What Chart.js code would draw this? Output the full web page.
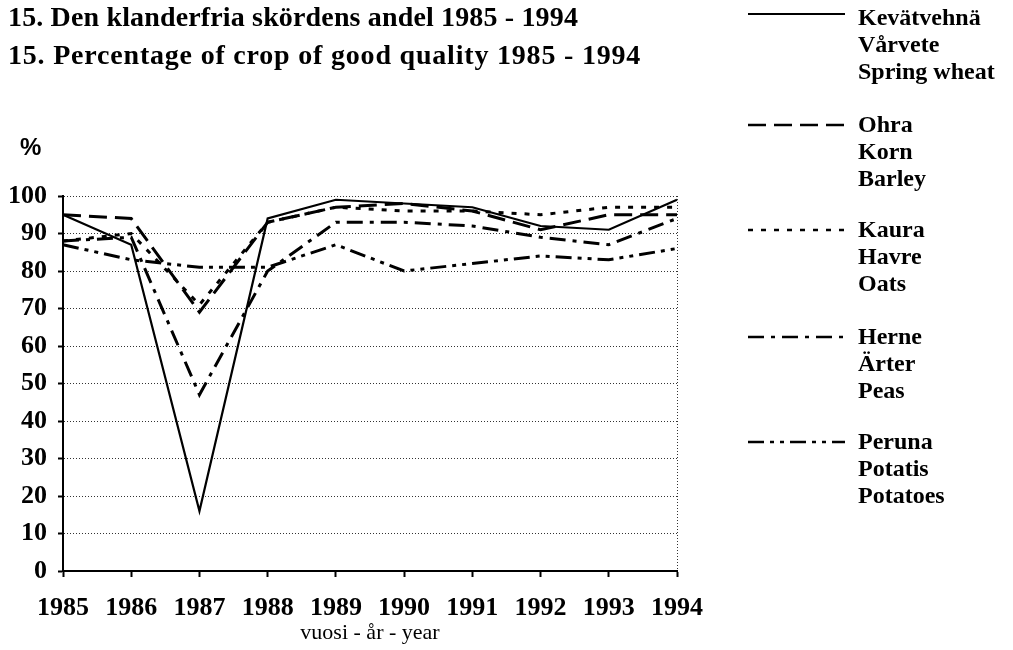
<!DOCTYPE html>
<html>
<head>
<meta charset="utf-8">
<script src="https://cdn.jsdelivr.net/npm/chart.js@4.4.1/dist/chart.umd.min.js"></script>
<style>
  html, body { margin:0; padding:0; background:#fff; }
  body { width:1013px; height:650px; position:relative; overflow:hidden; font-family:"Liberation Serif", "Times New Roman", serif; color:#000; }
  #c { position:absolute; left:0; top:0; }
  .title { position:absolute; left:8px; font-size:28px; font-weight:bold; line-height:1; white-space:nowrap; }
  .pct { position:absolute; left:20px; top:135px; font-family:"Liberation Sans", Arial, sans-serif; font-size:24px; font-weight:bold; line-height:1; }
  .leg { position:absolute; left:858px; font-size:24px; font-weight:bold; line-height:27px; white-space:nowrap; }
  #legsvg { position:absolute; left:0; top:0; }
</style>
</head>
<body>
<canvas id="c" width="1013" height="650"></canvas>
<div class="title" style="top:3px; letter-spacing:0.15px">15. Den klanderfria skördens andel 1985 - 1994</div>
<div class="title" style="top:41px; letter-spacing:0.8px">15. Percentage of crop of good quality 1985 - 1994</div>
<div class="pct">%</div>
<svg id="legsvg" width="1013" height="650"></svg>
<div id="legend"></div>
<script>
const years = ['1985','1986','1987','1988','1989','1990','1991','1992','1993','1994'];
const springWheat = [95, 87, 16, 94, 99, 98, 97, 92, 91, 99];
const barley      = [95, 94, 69, 93, 97, 98, 96, 91, 95, 95];
const oats        = [88, 90, 71, 93, 97, 96, 96, 95, 97, 97];
const peas        = [88, 89, 47, 80, 93, 93, 92, 89, 87, 94];
const potatoes    = [87, 83, 81, 81, 87, 80, 82, 84, 83, 86];
const seriesNames = [
  ['Kevätvehnä','Vårvete','Spring wheat'],
  ['Ohra','Korn','Barley'],
  ['Kaura','Havre','Oats'],
  ['Herne','Ärter','Peas'],
  ['Peruna','Potatis','Potatoes']
];
const xTitle = 'vuosi - år - year';
const yMin = 0, yMax = 100, yStep = 10;

const FAM = '"Liberation Serif", "Times New Roman", serif';
const dashes = [[], [18, 8], [5, 8], [16, 7, 4, 7], [16, 6, 4, 6, 4, 6]];
const widths = [2.2, 3, 3, 3, 3];
const values = [springWheat, barley, oats, peas, potatoes];

const datasets = values.map((v, i) => ({
  label: seriesNames[i][2],
  data: v,
  borderColor: '#000',
  backgroundColor: '#000',
  borderWidth: widths[i],
  borderDash: dashes[i],
  borderCapStyle: 'butt',
  pointRadius: 0,
  fill: false,
  tension: 0
}));

new Chart(document.getElementById('c').getContext('2d'), {
  type: 'line',
  data: { labels: years, datasets },
  options: {
    responsive: false,
    animation: false,
    layout: { padding: { left: 0, right: 336, top: 196, bottom: 0 } },
    plugins: { legend: { display: false }, tooltip: { enabled: false }, title: { display: false } },
    scales: {
      x: {
        grid: {
          color: c => (c.index === years.length - 1 ? '#333' : 'rgba(0,0,0,0)'),
          lineWidth: 1,
          drawTicks: true,
          tickLength: 6,
          tickColor: '#000',
          tickWidth: 2
        },
        border: { display: true, color: '#000', width: 2, dash: [1, 2] },
        ticks: { font: { family: FAM, size: 26, weight: 'bold' }, color: '#000', padding: 16, maxRotation: 0, autoSkip: false },
        title: { display: true, text: xTitle, font: { family: FAM, size: 22 }, color: '#000', padding: { top: 0, bottom: 4 } },
        afterFit: s => { s.height = 79; }
      },
      y: {
        min: yMin, max: yMax,
        ticks: { stepSize: yStep, font: { family: FAM, size: 26, weight: 'bold' }, color: '#000', padding: 11 },
        grid: { color: '#333', lineWidth: 1, tickLength: 5, tickColor: '#000', tickWidth: 2 },
        border: { display: true, color: '#000', width: 2, dash: [1, 2] },
        afterFit: s => { s.width = 63; }
      }
    }
  }
});

// Legend (HTML text + SVG line samples)
const legTops = [4, 111, 216, 323, 428];
const legLineY = [14, 125, 230, 337, 442];
const svg = document.getElementById('legsvg');
const legDiv = document.getElementById('legend');
seriesNames.forEach((names, i) => {
  const d = document.createElement('div');
  d.className = 'leg';
  d.style.top = legTops[i] + 'px';
  d.innerHTML = names.join('<br>');
  legDiv.appendChild(d);
  const ln = document.createElementNS('http://www.w3.org/2000/svg', 'line');
  ln.setAttribute('x1', 748); ln.setAttribute('x2', 845);
  ln.setAttribute('y1', legLineY[i]); ln.setAttribute('y2', legLineY[i]);
  ln.setAttribute('stroke', '#000');
  ln.setAttribute('stroke-width', i === 0 ? 2 : 2.5);
  if (dashes[i].length) ln.setAttribute('stroke-dasharray', dashes[i].join(' '));
  svg.appendChild(ln);
});
</script>
</body>
</html>
